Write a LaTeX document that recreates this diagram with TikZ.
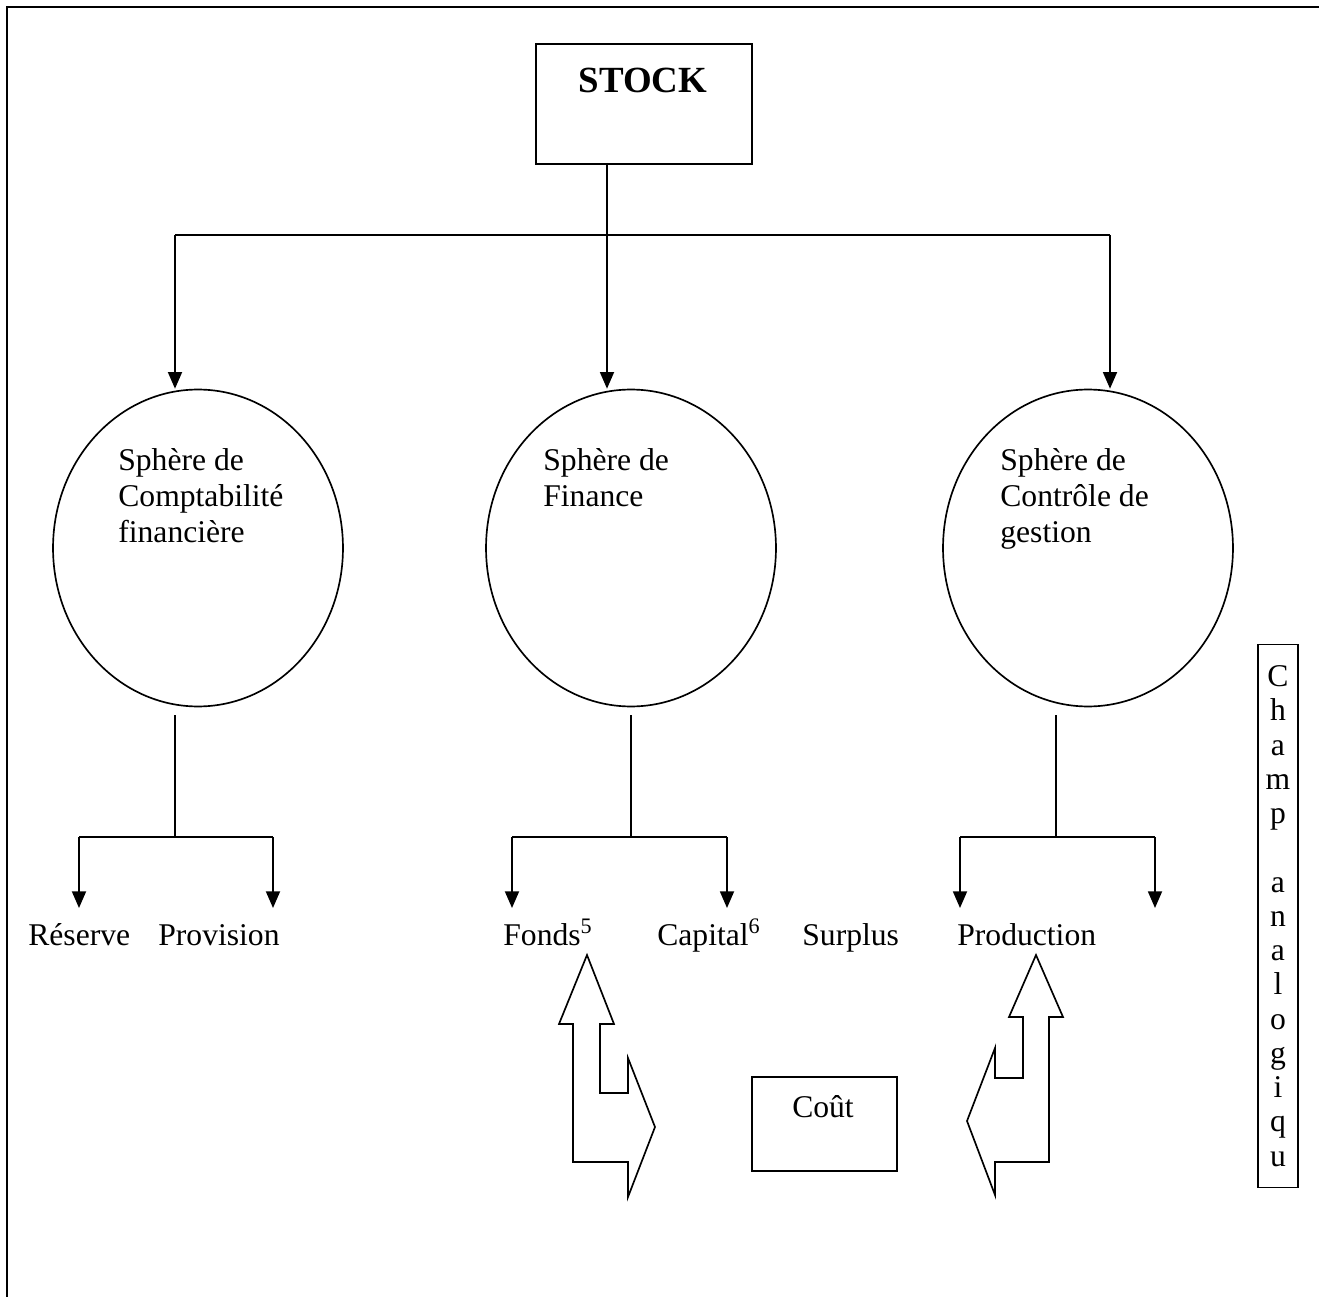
\documentclass[tikz,border=0pt]{standalone}
\usepackage{fontspec}
\setmainfont{Liberation Serif}
\usetikzlibrary{arrows.meta,shapes.geometric,positioning}

\tikzset{
  trait/.style={line width=0.95pt},
  fleche/.style={trait, -{Triangle[width=8pt,length=9.5pt]}},
  sphere/.style={draw, trait, ellipse, minimum width=5.8cm, minimum height=6.34cm, inner sep=0pt},
  libelle/.style={font=\fontsize{18}{20.5}\selectfont, inner sep=0pt},
  bloc/.style={draw, trait, line join=miter},
}

\begin{document}
\begin{tikzpicture}[x=0.02cm, y=-0.02cm]
  \useasboundingbox (0,0) rectangle (1319,1297);
  % cadre
  \draw[line width=1.3pt] (7,1297) -- (7,7) -- (1319,7);

  % stock
  \node[draw, trait, minimum width=4.32cm, minimum height=2.4cm, anchor=north west] (stock) at (535,43) {};
  \node[font=\fontsize{21}{24}\selectfont\bfseries, inner sep=0pt] (titre) at (643,80) {STOCK};
  \coordinate (pied) at (607,163);
  \coordinate (hg) at (175,235);
  \coordinate (hd) at (1110,235);

  % les trois spheres
  \node[sphere] (compta) at (198,548) {};
  \node[sphere] (finance) at (631,548) {};
  \node[sphere] (gestion) at (1088,548) {};

  \draw[trait] (hg) -- (hd);
  \draw[fleche] (hg) -- (hg |- compta.north);
  \draw[fleche] (pied) -- (pied |- finance.north);
  \draw[fleche] (hd) -- (hd |- gestion.north);

  \node[libelle, align=left, anchor=north west] (tcompta) at (118,448) {Sphère de\\Comptabilité\\financière};
  \node[libelle, align=left, anchor=north west] (tfinance) at (543,448) {Sphère de\\Finance};
  \node[libelle, align=left, anchor=north west] (tgestion) at (1000,448) {Sphère de\\Contrôle de\\gestion};

  % branches
  \foreach \s/\x/\g/\d in {compta/175/79/273, finance/631/512/727, gestion/1056/960/1155}{
    \coordinate (\s-haut) at (\x,715);
    \coordinate (\s-bas) at (\x,837);
    \coordinate (\s-g) at (\g,837);
    \coordinate (\s-d) at (\d,837);
    \draw[trait] (\s-haut) -- (\s-bas);
    \draw[trait] (\s-g) -- (\s-d);
    \draw[fleche] (\s-g) -- ++(0,71);
    \draw[fleche] (\s-d) -- ++(0,71);
  }

  \node[libelle, anchor=base west] (reserve) at (28,945) {Réserve};
  \node[libelle, anchor=base west] (provision) at (158,945) {Provision};
  \node[libelle, anchor=base west] (fonds) at (503,945) {Fonds\textsuperscript{5}};
  \node[libelle, anchor=base west] (capital) at (657,945) {Capital\textsuperscript{6}};
  \node[libelle, anchor=base west] (surplus) at (802,945) {Surplus};
  \node[libelle, anchor=base west] (production) at (957,945) {Production};

  % fleches coudees
  \draw[bloc] (587,955) -- (614,1024) -- (600,1024) -- (600,1093) -- (628,1093) -- (628,1058)
    -- (655,1127) -- (628,1197) -- (628,1162) -- (573,1162) -- (573,1024) -- (559,1024) -- cycle;
  \draw[bloc] (1036,955) -- (1063,1017) -- (1049,1017) -- (1049,1162) -- (995,1162) -- (995,1195)
    -- (967,1121) -- (995,1048) -- (995,1078) -- (1023,1078) -- (1023,1017) -- (1009,1017) -- cycle;

  % cout
  \node[draw, trait, minimum width=2.9cm, minimum height=1.88cm, anchor=north west] (cout) at (751,1076) {};
  \node[libelle] (tcout) at (823,1107) {Coût};

  % champ analogique
  \node[draw, trait, font=\fontsize{18}{19.5}\selectfont, inner sep=0pt, minimum width=0.8cm, minimum height=10.86cm, align=center] (champ) at (1278,916)
    {C\\h\\a\\m\\p\\~\\a\\n\\a\\l\\o\\g\\i\\q\\u};
\end{tikzpicture}
\end{document}
